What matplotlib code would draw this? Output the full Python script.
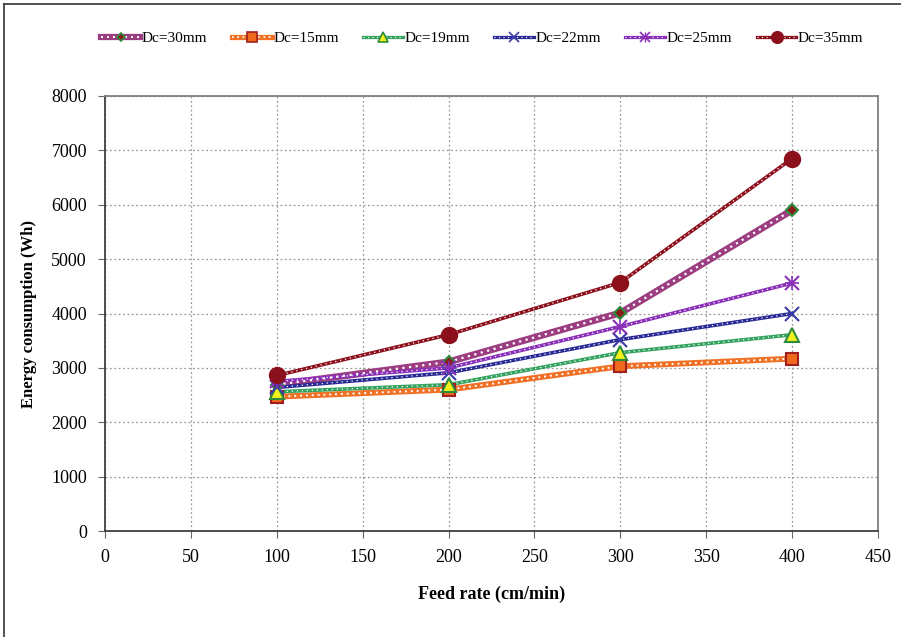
import matplotlib
matplotlib.use("Agg")
import matplotlib.pyplot as plt
from matplotlib.lines import Line2D
from matplotlib.legend_handler import HandlerTuple

plt.rcParams['font.family'] = ['Liberation Serif', 'DejaVu Serif']

feed_rate = [100, 200, 300, 400]
labels = ["Dc=30mm", "Dc=15mm", "Dc=19mm", "Dc=22mm", "Dc=25mm", "Dc=35mm"]
dc30 = [2690, 3110, 4010, 5900]
dc15 = [2470, 2600, 3030, 3170]
dc19 = [2560, 2690, 3280, 3610]
dc22 = [2640, 2910, 3520, 4000]
dc25 = [2750, 3000, 3760, 4560]
dc35 = [2860, 3610, 4570, 6850]
series = [dc30, dc15, dc19, dc22, dc25, dc35]

styles = [
    dict(color="#9b3d80", lw=5.0, marker="D", ms=6, mfc="#8b1a1a", mec="#2e8b3e", dots=(0, (1, 2)), dlw=1.6),
    dict(color="#f07125", lw=4.2, marker="s", ms=9, mfc="#f06a1e", mec="#a02020", dots=(0, (1, 2)), dlw=1.4),
    dict(color="#33a35f", lw=2.6, marker="^", ms=10, mfc="#f2ef1a", mec="#2e8b3e", dots=(0, (1, 3)), dlw=0.9),
    dict(color="#2a2a96", lw=2.6, marker="x", ms=10, mfc="none", mec="#3a3aa8", dots=(0, (1, 3)), dlw=0.9),
    dict(color="#8a30b8", lw=2.6, marker="x", ms=10, mfc="none", mec="#8a30b8", dots=(0, (1, 3)), dlw=0.9),
    dict(color="#8c0f1c", lw=2.6, marker="o", ms=11, mfc="#8c0f1c", mec="#8c0f1c", dots=(0, (1, 3)), dlw=0.9),
]

fig = plt.figure(figsize=(9.01, 6.37), dpi=100)
ax = fig.add_axes([105/901, 1-531/637, (878-105)/901, (531-96)/637])

handles = []
for vals, st, lab in zip(series, styles, labels):
    base, = ax.plot(feed_rate, vals, color=st["color"], lw=st["lw"], zorder=3)
    over, = ax.plot(feed_rate, vals, color="white", lw=st["dlw"], ls=st["dots"], zorder=4)
    ax.plot(feed_rate, vals, ls="none", marker=st["marker"], ms=st["ms"],
            mfc=st["mfc"], mec=st["mec"], mew=1.5, zorder=5)
    extra = []
    if lab == "Dc=25mm":
        ax.plot(feed_rate, vals, ls="none", marker="+", ms=10, mec=st["mec"], mew=1.2, zorder=5)
        extra = [Line2D([], [], ls="none", marker="+", ms=7, mec=st["mec"], mew=1.0)]
    hb = Line2D([], [], color=st["color"], lw=st["lw"] * 0.9)
    ho = Line2D([], [], color="white", lw=st["dlw"] * 0.9, ls=st["dots"])
    hm = Line2D([], [], ls="none", marker=st["marker"], ms=st["ms"] * 0.75,
                mfc=st["mfc"], mec=st["mec"], mew=1.2)
    handles.append(tuple([hb, ho, hm] + extra))

ax.set_xlim(0, 450)
ax.set_ylim(0, 8000)
ax.set_xticks(range(0, 451, 50))
ax.set_yticks(range(0, 8001, 1000))
ax.grid(True, color="#9a9a9a", ls=(0, (1.5, 2)), lw=0.9)
ax.set_axisbelow(True)
for s in ax.spines.values():
    s.set_color("#808080")
    s.set_linewidth(1.3)
ax.spines['bottom'].set_color("#404040")
ax.spines['left'].set_color("#404040")
ax.tick_params(direction="out", length=5, color="#666666", labelsize=13, pad=8)
ax.set_xlabel("Feed rate (cm/min)", fontsize=13, fontweight="bold", labelpad=14)
ax.set_ylabel("Energy consumption (Wh)", fontsize=12, fontweight="bold", labelpad=10)

fig.legend(handles, labels, loc="center", bbox_to_anchor=(0.535, 0.94), ncol=6, frameon=False,
           fontsize=11, handlelength=2.6, handletextpad=0.1, columnspacing=1.6,
           handler_map={tuple: HandlerTuple(ndivide=1, pad=0)})

fig.add_artist(Line2D([4/901, 4/901], [0, 1-4/637], transform=fig.transFigure, color="#333333", lw=1.2))
fig.add_artist(Line2D([4/901, 1], [1-4/637, 1-4/637], transform=fig.transFigure, color="#333333", lw=1.2))

fig.savefig("out.png", dpi=100)
